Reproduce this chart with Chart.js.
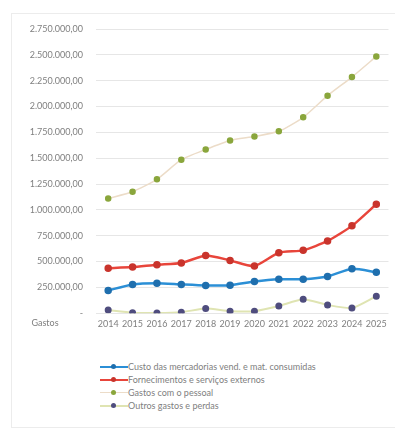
<!DOCTYPE html>
<html>
<head>
<meta charset="utf-8">
<script src="https://cdn.jsdelivr.net/npm/chart.js@4/dist/chart.umd.min.js"></script>
<style>
  body { margin: 0; background: #fff; width: 395px; height: 428px; overflow: hidden; }
  #frame { position: absolute; left: 11px; top: 13px; width: 390px; height: 413px; border-left: 1px solid #ececec; border-top: 1px solid #ececec; border-bottom: 1px solid #ececec; }
  #wrap { position: absolute; left: 0; top: 0; width: 395px; height: 340px; }
  #legend { position: absolute; left: 100px; top: 360px; font: 9px Lato, "Open Sans", sans-serif; color: #808080; }
  .row { height: 13px; display: flex; align-items: center; }
  .sample { position: relative; width: 28px; height: 8px; margin-right: 0; }
  .sample .ln { position: absolute; left: 0; right: 0; top: 3px; }
  .sample .dot { position: absolute; left: 11px; top: 1.5px; width: 5px; height: 5px; border-radius: 50%; }
</style>
</head>
<body>
<div id="frame"></div>
<div id="wrap"><canvas id="chart"></canvas></div>
<div id="legend"></div>
<script>
// data
const years = ['2014', '2015', '2016', '2017', '2018', '2019', '2020', '2021', '2022', '2023', '2024', '2025'];
const custo = [220000, 278000, 290000, 278000, 268000, 271000, 307000, 329000, 329000, 355000, 430000, 397000];
const fornecimentos = [435000, 446000, 469000, 485000, 559000, 511000, 456000, 585000, 608000, 699000, 845000, 1055000];
const pessoal = [1110000, 1175000, 1295000, 1485000, 1585000, 1672000, 1710000, 1760000, 1895000, 2105000, 2285000, 2485000];
const outros = [30000, 5000, 2000, 10000, 45000, 20000, 20000, 70000, 135000, 80000, 50000, 165000];
const seriesNames = ['Custo das mercadorias vend. e mat. consumidas', 'Fornecimentos e serviços externos', 'Gastos com o pessoal', 'Outros gastos e perdas'];

// line colour, marker colour, width
const styles = [
  ['#2b8fd6', '#1f6fae', 2.5],
  ['#e8453b', '#c9342c', 2.5],
  ['#ecdcc8', '#8aa63c', 1.5],
  ['#dfe4b2', '#4f4d7e', 2]
];
const allData = [custo, fornecimentos, pessoal, outros];

// number format like 1.250.000,00
function fmt(v) {
  if (v === 0) return '-';
  const s = Math.round(v).toString().replace(/\B(?=(\d{3})+(?!\d))/g, '.');
  return s + ',00';
}

// draws the "Gastos" header next to the year labels
const rowTitle = {
  id: 'rowTitle',
  afterDraw(chart) {
    const ctx = chart.ctx;
    const x = chart.scales.x;
    ctx.save();
    ctx.font = '9px Lato, "Open Sans", sans-serif';
    ctx.fillStyle = '#808080';
    ctx.textAlign = 'center';
    ctx.textBaseline = 'middle';
    ctx.fillText('Gastos', 45, x.top + 10);
    ctx.restore();
  }
};

const ctx = document.getElementById('chart').getContext('2d');
const chart = new Chart(ctx, {
  type: 'line',
  data: {
    labels: years,
    datasets: allData.map((d, i) => ({
      label: seriesNames[i],
      data: d,
      borderColor: styles[i][0],
      backgroundColor: styles[i][1],
      pointBackgroundColor: styles[i][1],
      pointBorderColor: styles[i][1],
      borderWidth: styles[i][2],
      pointRadius: 2.5,
      tension: 0.2
    }))
  },
  options: {
    responsive: true,
    maintainAspectRatio: false,
    animation: false,
    layout: { padding: { top: 29, right: 3, bottom: 6 } },
    plugins: { legend: { display: false }, tooltip: { enabled: false } },
    scales: {
      x: {
        offset: true,
        grid: { display: false, drawTicks: false },
        border: { display: false },
        ticks: { color: '#808080', font: { family: 'Lato', size: 9 }, maxRotation: 0, padding: 5 }
      },
      y: {
        min: 0,
        max: 2750000,
        afterFit: s => { s.width = 96; },
        grid: { color: '#e6e6e6', drawTicks: false },
        border: { display: false },
        ticks: { stepSize: 250000, color: '#808080', font: { family: 'Lato', size: 9 }, padding: 13, callback: v => fmt(v) }
      }
    }
  },
  plugins: [rowTitle]
});

// legend below the chart, one entry per row
const legend = document.getElementById('legend');
seriesNames.forEach((name, i) => {
  const row = document.createElement('div');
  row.className = 'row';
  row.innerHTML = '<div class="sample"><div class="ln" style="border-top:' + styles[i][2] + 'px solid ' + styles[i][0] + '"></div>' +
    '<div class="dot" style="background:' + styles[i][1] + '"></div></div><span>' + name + '</span>';
  legend.appendChild(row);
});
</script>
</body>
</html>
